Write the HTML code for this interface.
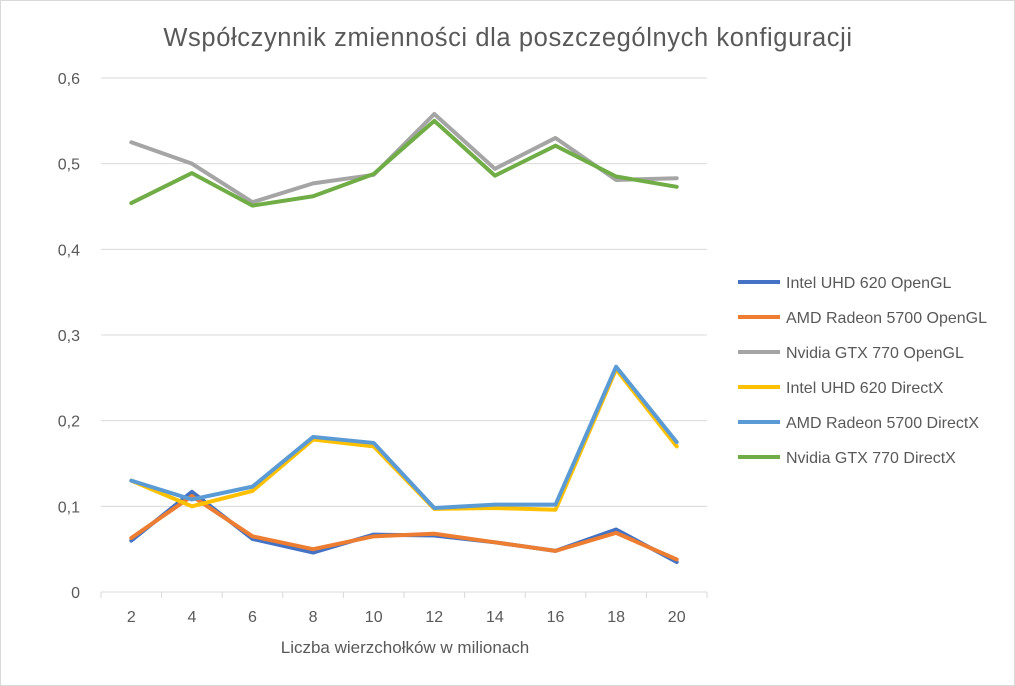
<!DOCTYPE html>
<html><head><meta charset="utf-8"><style>
body{margin:0;background:#fff;}
svg{display:block;font-family:"Liberation Sans",sans-serif;}
</style></head><body>
<svg id="chart" width="1015" height="686">
<rect x="0.5" y="0.5" width="1014" height="685" fill="#fff" stroke="#d9d9d9"/>
<text x="508" y="46" text-anchor="middle" font-size="25.5" letter-spacing="0.6" fill="#595959">Współczynnik zmienności dla poszczególnych konfiguracji</text>
<text x="405" y="653" text-anchor="middle" font-size="17" fill="#595959">Liczba wierzchołków w milionach</text>
<g id="grid"></g><g id="lines"></g><g id="legend"></g>
</svg>
<script>
const categories=[2,4,6,8,10,12,14,16,18,20];
const yTicks=[0,0.1,0.2,0.3,0.4,0.5,0.6];
const yTickLabels=["0","0,1","0,2","0,3","0,4","0,5","0,6"];
const seriesNames=["Intel UHD 620 OpenGL","AMD Radeon 5700 OpenGL","Nvidia GTX 770 OpenGL","Intel UHD 620 DirectX","AMD Radeon 5700 DirectX","Nvidia GTX 770 DirectX"];
const seriesColors=["#4472c4","#ed7d31","#a5a5a5","#ffc000","#5b9bd5","#70ad47"];
const intelOGL=[0.060,0.117,0.062,0.046,0.067,0.066,0.058,0.048,0.073,0.035];
const amdOGL=[0.063,0.112,0.065,0.050,0.065,0.068,0.058,0.048,0.069,0.038];
const nvOGL=[0.525,0.500,0.455,0.477,0.487,0.558,0.494,0.530,0.481,0.483];
const intelDX=[0.130,0.100,0.118,0.178,0.170,0.097,0.098,0.096,0.260,0.170];
const amdDX=[0.130,0.108,0.123,0.181,0.174,0.098,0.102,0.102,0.263,0.175];
const nvDX=[0.454,0.489,0.451,0.462,0.488,0.550,0.486,0.521,0.485,0.473];
const series=[intelOGL,amdOGL,nvOGL,intelDX,amdDX,nvDX];
const ns="http://www.w3.org/2000/svg";
const L=101,R=707,T=78,B=592,yMax=0.6;
const step=(R-L)/categories.length;
const xs=i=>L+step*(i+0.5);
const ys=v=>B-(v/yMax)*(B-T);
function mk(tag,attrs,parent){const e=document.createElementNS(ns,tag);for(const k in attrs)e.setAttribute(k,attrs[k]);parent.appendChild(e);return e;}
const grid=document.getElementById('grid');
yTicks.forEach((t,i)=>{
  const g=mk('line',{x1:L,x2:R,y1:ys(t),y2:ys(t),stroke:'#d9d9d9','stroke-width':1},grid);
  
  
  const tx=mk('text',{x:80,y:ys(t)+6,'text-anchor':'end','font-size':16,fill:'#595959'},grid);
  tx.textContent=yTickLabels[i];
  
  
});
for(let i=0;i<=categories.length;i++){
  const tk=mk('line',{x1:L+step*i,x2:L+step*i,y1:B,y2:B+6,stroke:'#d9d9d9'},grid);
  
  
}
categories.forEach((c,i)=>{
  const tx=mk('text',{x:xs(i),y:B+30,'text-anchor':'middle','font-size':16,fill:'#595959'},grid);
  tx.textContent=c;
  
  
});
const lines=document.getElementById('lines');
series.forEach((s,k)=>{
  const p=mk('polyline',{points:s.map((v,i)=>xs(i)+','+ys(v)).join(' '),fill:'none',stroke:seriesColors[k],'stroke-width':4,'stroke-linejoin':'round','stroke-linecap':'round'},lines);
  
  
});
const legend=document.getElementById('legend');
seriesNames.forEach((n,k)=>{
  const y=282+k*35;
  const l=mk('line',{x1:738,x2:780,y1:y,y2:y,stroke:seriesColors[k],'stroke-width':4},legend);
  
  
  const t=mk('text',{x:786,y:y+6,'font-size':16,fill:'#595959'},legend);
  t.textContent=n;
  
  
});
</script>
</body></html>
